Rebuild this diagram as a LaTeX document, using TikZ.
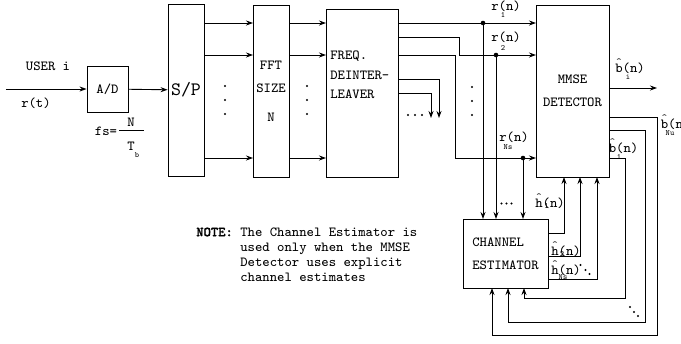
\documentclass[tikz,border=0pt]{standalone}
\usepackage{fontspec}
\renewcommand{\familydefault}{\ttdefault}
\newfontfamily\notefont{lmmonolt10-bold.otf}[FakeBold=1.5]
\newcommand{\hatted}[1]{\rlap{\hspace{0.06em}\raisebox{0.52em}{\scalebox{0.78}{\textasciicircum}}}#1}
\usepackage{tikz}
\usetikzlibrary{arrows.meta}
\pgfdeclarelayer{edgelayer}
\pgfdeclarelayer{nodelayer}
\pgfsetlayers{edgelayer,nodelayer,main}
\tikzstyle{none}=[inner sep=0pt]
\tikzstyle{box}=[rectangle, draw=black, line width=0.5pt, inner sep=0pt, font=\fontsize{7.9}{9}\selectfont]
\tikzstyle{adbox}=[box, minimum width=0.82cm, minimum height=0.92cm]
\tikzstyle{tallbox}=[box, minimum width=0.72cm, minimum height=3.44cm]
\tikzstyle{freqbox}=[box, minimum width=1.44cm, minimum height=3.36cm]
\tikzstyle{mmsebox}=[box, minimum width=1.46cm, minimum height=3.44cm]
\tikzstyle{estbox}=[box, minimum width=1.70cm, minimum height=1.38cm]
\tikzstyle{label}=[inner sep=0pt, font=\fontsize{7.9}{8.5}\selectfont]
\tikzstyle{sub}=[inner sep=0pt, font=\fontsize{4.6}{5}\selectfont]
\tikzstyle{junction}=[circle, fill=black, inner sep=0pt, minimum size=2.6pt]
\tikzstyle{dot}=[circle, fill=black, inner sep=0pt, minimum size=1.2pt]
\tikzstyle{edge}=[draw=black, line width=0.5pt]
\tikzstyle{arrow}=[draw=black, line width=0.5pt, -{Stealth[length=1.4mm, width=1mm]}]

\begin{document}
\begin{tikzpicture}
			\useasboundingbox (0, 0) rectangle (13.62, 6.86);
			\begin{pgfonlayer}{nodelayer}
			\node [style=adbox] (0) at (2.15, 5.08) {A/D};
			\node [style=tallbox, font=\fontsize{10.8}{12}\selectfont] (1) at (3.72, 5.06) {S/P};
			\node [style=tallbox, align=center] (2) at (5.42, 5.04) {FFT\\[4.4pt]SIZE\\[7pt]N};
			\node [style=freqbox] (114) at (7.24, 5.00) {};
			\node [style=mmsebox, align=center] (115) at (11.45, 5.04) {MMSE\\[4pt]DETECTOR};
			\node [style=estbox, align=left] (116) at (10.11, 1.79) {CHANNEL\\[4pt]ESTIMATOR};
			\node [style=none] (3) at (0.12, 5.08) {};
			\node [style=label] (4) at (0.96, 5.54) {USER i};
			\node [style=label] (5) at (0.72, 4.80) {r(t)};
			\node [style=label] (6) at (2.12, 4.24) {fs=};
			\node [style=none] (7) at (2.38, 4.26) {};
			\node [style=none] (8) at (2.88, 4.26) {};
			\node [style=label] (9) at (2.62, 4.42) {N};
			\node [style=label] (10) at (2.62, 3.94) {T};
			\node [style=sub] (11) at (2.74, 3.76) {b};
			\node [style=none] (12) at (4.08, 6.40) {};
			\node [style=none] (13) at (5.06, 6.40) {};
			\node [style=none] (14) at (4.08, 5.76) {};
			\node [style=none] (15) at (5.06, 5.76) {};
			\node [style=none] (16) at (4.08, 3.70) {};
			\node [style=none] (17) at (5.06, 3.70) {};
			\node [style=none] (18) at (5.78, 6.40) {};
			\node [style=none] (19) at (6.52, 6.40) {};
			\node [style=none] (20) at (5.78, 5.76) {};
			\node [style=none] (21) at (6.52, 5.76) {};
			\node [style=none] (22) at (5.78, 3.70) {};
			\node [style=none] (23) at (6.52, 3.70) {};
			\node [style=dot] (24) at (4.50, 5.14) {};
			\node [style=dot] (25) at (4.50, 4.86) {};
			\node [style=dot] (26) at (4.50, 4.58) {};
			\node [style=dot] (27) at (6.14, 5.14) {};
			\node [style=dot] (28) at (6.14, 4.86) {};
			\node [style=dot] (29) at (6.14, 4.58) {};
			\node [style=dot] (30) at (9.44, 5.12) {};
			\node [style=dot] (31) at (9.44, 4.84) {};
			\node [style=dot] (32) at (9.44, 4.56) {};
			\node [style=label, anchor=west, align=left] (33) at (6.60, 5.36) {FREQ.\\[2.5pt]DEINTER-\\[2.5pt]LEAVER};
			\node [style=none] (34) at (7.96, 6.40) {};
			\node [style=none] (35) at (10.72, 6.40) {};
			\node [style=junction] (36) at (9.66, 6.40) {};
			\node [style=none] (37) at (7.96, 6.12) {};
			\node [style=none] (38) at (9.18, 6.12) {};
			\node [style=none] (39) at (9.18, 5.76) {};
			\node [style=none] (40) at (10.72, 5.76) {};
			\node [style=junction] (41) at (9.92, 5.76) {};
			\node [style=none] (42) at (7.96, 5.76) {};
			\node [style=none] (43) at (9.10, 5.76) {};
			\node [style=none] (44) at (9.10, 3.70) {};
			\node [style=none] (45) at (10.72, 3.70) {};
			\node [style=junction] (46) at (10.46, 3.70) {};
			\node [style=none] (47) at (7.96, 5.28) {};
			\node [style=none] (48) at (8.78, 5.28) {};
			\node [style=none] (49) at (8.78, 4.50) {};
			\node [style=none] (50) at (7.96, 5.00) {};
			\node [style=none] (51) at (8.62, 5.00) {};
			\node [style=none] (52) at (8.62, 4.50) {};
			\node [style=dot] (53) at (8.16, 4.56) {};
			\node [style=dot] (54) at (8.30, 4.56) {};
			\node [style=dot] (55) at (8.44, 4.56) {};
			\node [style=label] (56) at (10.12, 6.74) {r(n)};
			\node [style=sub] (57) at (10.06, 6.56) {1};
			\node [style=label] (58) at (10.12, 6.12) {r(n)};
			\node [style=sub] (59) at (10.06, 5.90) {2};
			\node [style=label] (60) at (10.28, 4.12) {r(n)};
			\node [style=sub] (61) at (10.16, 3.92) {Ns};
			\node [style=none] (62) at (9.66, 2.48) {};
			\node [style=none] (63) at (9.92, 2.48) {};
			\node [style=none] (64) at (10.46, 2.48) {};
			\node [style=dot] (65) at (10.03, 2.79) {};
			\node [style=dot] (66) at (10.13, 2.79) {};
			\node [style=dot] (67) at (10.23, 2.79) {};
			\node [style=none] (68) at (12.18, 5.10) {};
			\node [style=none] (69) at (13.14, 5.10) {};
			\node [style=label] (70) at (12.60, 5.54) {\hatted{b}(n)};
			\node [style=sub] (71) at (12.56, 5.32) {i};
			\node [style=none] (72) at (12.18, 4.52) {};
			\node [style=none] (73) at (13.14, 4.52) {};
			\node [style=none] (74) at (13.14, 0.16) {};
			\node [style=none] (75) at (9.84, 0.16) {};
			\node [style=none] (76) at (9.84, 1.10) {};
			\node [style=none] (77) at (12.18, 4.26) {};
			\node [style=none] (78) at (12.90, 4.26) {};
			\node [style=none] (79) at (12.90, 0.42) {};
			\node [style=none] (80) at (10.16, 0.42) {};
			\node [style=none] (81) at (10.16, 1.10) {};
			\node [style=none] (82) at (12.18, 3.70) {};
			\node [style=none] (83) at (12.50, 3.70) {};
			\node [style=none] (84) at (12.50, 0.90) {};
			\node [style=none] (85) at (10.48, 0.90) {};
			\node [style=none] (86) at (10.48, 1.10) {};
			\node [style=label] (87) at (13.51, 4.42) {\hatted{b}(n)};
			\node [style=sub] (88) at (13.40, 4.20) {Nu};
			\node [style=label] (89) at (12.47, 3.94) {\hatted{b}(n)};
			\node [style=sub] (90) at (12.38, 3.72) {1};
			\node [style=none] (91) at (10.96, 2.20) {};
			\node [style=none] (92) at (11.28, 2.20) {};
			\node [style=none] (93) at (11.28, 3.32) {};
			\node [style=none] (94) at (10.96, 1.74) {};
			\node [style=none] (95) at (11.60, 1.74) {};
			\node [style=none] (96) at (11.60, 3.32) {};
			\node [style=none] (97) at (10.96, 1.28) {};
			\node [style=none] (98) at (11.94, 1.28) {};
			\node [style=none] (99) at (11.94, 3.32) {};
			\node [style=label] (100) at (11.00, 2.84) {\hatted{h}(n)};
			\node [style=sub] (101) at (10.93, 2.75) {1};
			\node [style=label] (102) at (11.32, 1.87) {\hatted{h}(n)};
			\node [style=sub] (103) at (11.24, 1.79) {2};
			\node [style=label] (104) at (11.32, 1.49) {\hatted{h}(n)};
			\node [style=sub] (105) at (11.26, 1.31) {Ns};
			\node [style=dot] (106) at (11.61, 1.56) {};
			\node [style=dot] (107) at (11.71, 1.46) {};
			\node [style=dot] (108) at (11.79, 1.38) {};
			\node [style=dot] (109) at (12.60, 0.72) {};
			\node [style=dot] (110) at (12.68, 0.62) {};
			\node [style=dot] (111) at (12.76, 0.54) {};
			\node [style=label, anchor=west] (112) at (3.92, 2.22) {\notefont NOTE:};
			\node [style=label, anchor=west, align=left] (113) at (4.80, 1.77) {The Channel Estimator is\\used only when the MMSE\\Detector uses explicit\\channel estimates};
			\end{pgfonlayer}
			\begin{pgfonlayer}{edgelayer}
			\draw [style=arrow] (3.center) to (0);
			\draw [style=arrow] (0) to (1);
			\draw [style=edge] (7.center) to (8.center);
			\draw [style=arrow] (12.center) to (13.center);
			\draw [style=arrow] (14.center) to (15.center);
			\draw [style=arrow] (16.center) to (17.center);
			\draw [style=arrow] (18.center) to (19.center);
			\draw [style=arrow] (20.center) to (21.center);
			\draw [style=arrow] (22.center) to (23.center);
			\draw [style=arrow] (34.center) to (35.center);
			\draw [style=arrow] (37.center) to (38.center) to (39.center) to (40.center);
			\draw [style=arrow] (42.center) to (43.center) to (44.center) to (45.center);
			\draw [style=arrow] (47.center) to (48.center) to (49.center);
			\draw [style=arrow] (50.center) to (51.center) to (52.center);
			\draw [style=arrow] (36.center) to (62.center);
			\draw [style=arrow] (41.center) to (63.center);
			\draw [style=arrow] (46.center) to (64.center);
			\draw [style=arrow] (68.center) to (69.center);
			\draw [style=arrow] (72.center) to (73.center) to (74.center) to (75.center) to (76.center);
			\draw [style=arrow] (77.center) to (78.center) to (79.center) to (80.center) to (81.center);
			\draw [style=arrow] (82.center) to (83.center) to (84.center) to (85.center) to (86.center);
			\draw [style=arrow] (91.center) to (92.center) to (93.center);
			\draw [style=arrow] (94.center) to (95.center) to (96.center);
			\draw [style=arrow] (97.center) to (98.center) to (99.center);
			\end{pgfonlayer}
\end{tikzpicture}
\end{document}
